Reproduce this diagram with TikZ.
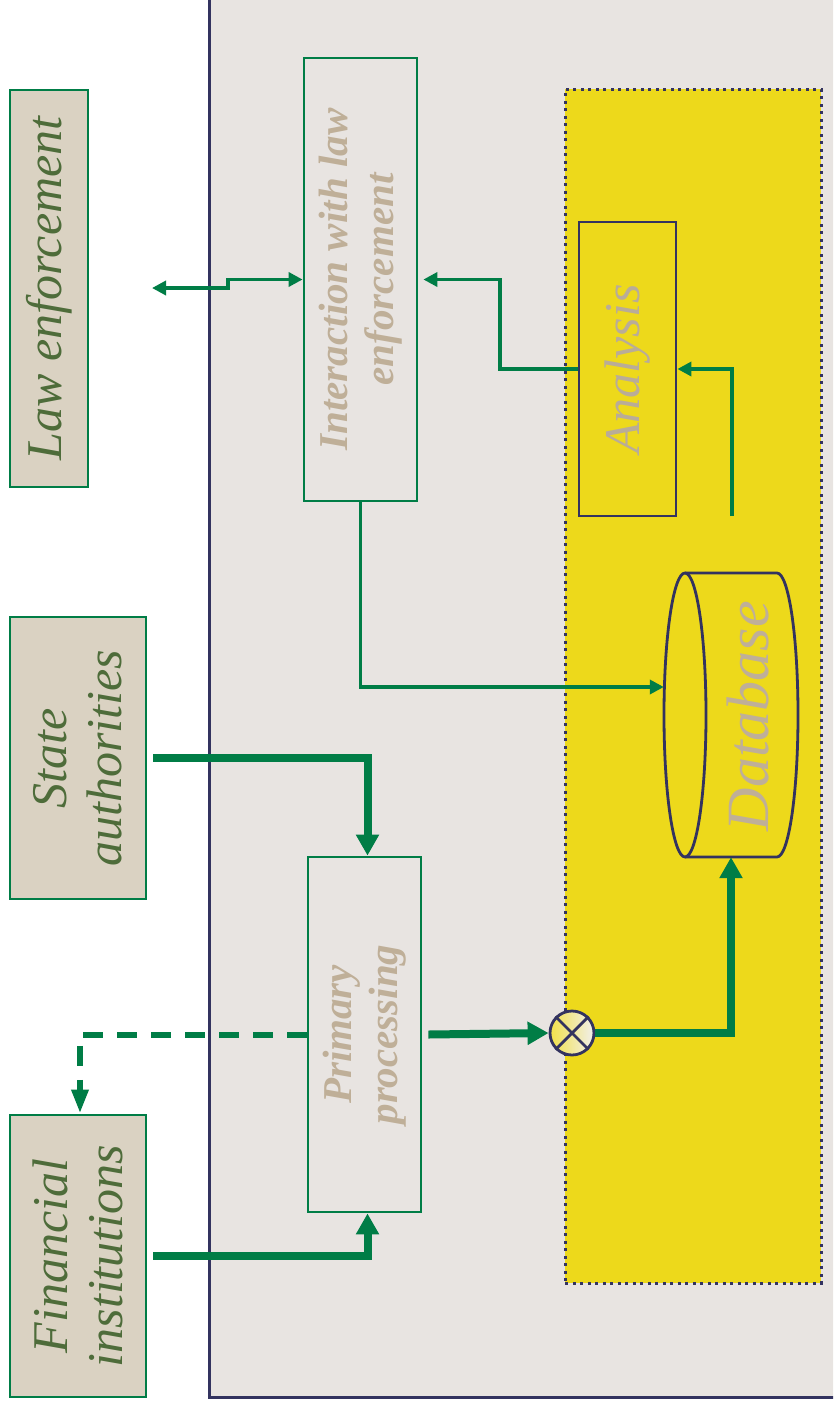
\documentclass[tikz,border=0pt]{standalone}
\usepackage{fontspec}
\setmainfont{Liberation Serif}
\usetikzlibrary{arrows.meta,calc}
\definecolor{grn}{RGB}{0,125,70}
\definecolor{beige}{RGB}{218,210,194}
\definecolor{olive}{RGB}{78,108,58}
\definecolor{panel}{RGB}{232,228,225}
\definecolor{navy}{RGB}{51,51,95}
\definecolor{yel}{RGB}{237,217,27}
\definecolor{tan}{RGB}{191,175,152}
\definecolor{tangray}{RGB}{185,172,152}
\tikzset{
  outbox/.style={draw=grn, line width=2.8pt, fill=beige, inner sep=0pt},
  inbox/.style={draw=grn, line width=2.8pt, inner sep=0pt},
  navybox/.style={draw=navy, line width=2.8pt, inner sep=0pt},
  outtext/.style={rotate=90, align=center, text=olive, font=\fontsize{50}{55}\selectfont\itshape},
  intext/.style={rotate=90, align=center, text=tan, font=\fontsize{41}{46}\selectfont\bfseries\itshape},
  thinarrow/.style={draw=grn, line width=3.5pt, -{Triangle[length=14pt,width=14pt]}},
  thickarrow/.style={draw=grn, line width=8pt, -{Triangle[length=21pt,width=22pt]}},
}
\begin{document}
\begin{tikzpicture}[x=1pt,y=-1pt]
\useasboundingbox (0,0) rectangle (833,1406);
\clip (0,0) rectangle (833,1406);
\fill[white] (0,0) rectangle (833,1406);
% panel
\fill[panel] (209,-10) rectangle (850,1397);
\draw[navy, line width=3pt] (209,-10) -- (209,1397) -- (850,1397);
% yellow region
\node[fill=yel, draw=navy, line width=3pt, dash pattern=on 3pt off 4.5pt, minimum width=256, minimum height=1194, inner sep=0pt] (yellow) at (693,686) {};
% outer boxes
\node[outbox, minimum width=78, minimum height=397] (law) at (49,288.5) {};
\node[outtext] (lawt) at (law.center) {Law enforcement};
\node[outbox, minimum width=136, minimum height=282] (state) at (78,758) {};
\node[outtext] (statet) at (state.center) {State\\authorities};
\node[outbox, minimum width=136, minimum height=282] (fin) at (78,1256) {};
\node[outtext] (fint) at (fin.center) {Financial\\institutions};
% inner boxes
\node[inbox, minimum width=113, minimum height=443] (inter) at (360.5,279.5) {};
\node[intext] (intert) at (inter.center) {Interaction with law\\enforcement};
\node[inbox, minimum width=113, minimum height=355] (prim) at (364.5,1034.5) {};
\node[intext] (primt) at (prim.center) {Primary\\processing};
\node[navybox, minimum width=97, minimum height=294] (ana) at (627.5,369) {};
\node[rotate=90, text=tangray, font=\fontsize{50}{55}\selectfont\itshape] (anat) at (ana.center) {Analysis};
% database cylinder
\node[minimum width=134, minimum height=284, inner sep=0pt] (db) at (731,715) {};
\draw[navy, line width=2.8pt] (685,715) ellipse [x radius=21, y radius=142];
\draw[navy, line width=2.8pt] (685,573) -- (777,573) arc [start angle=-90, end angle=90, x radius=21, y radius=142] -- (685,857);
\node[rotate=90, text=tan, font=\fontsize{60}{66}\selectfont\itshape] (dbt) at (748,716) {Database};
% mixer
\node[circle, draw=navy, line width=2.8pt, minimum size=44pt, inner sep=0pt, left color=yel!80!white, right color=panel!60!white] (mix) at (572,1033) {};
\draw[navy, line width=2.8pt] (mix.north west) -- (mix.south east);
\draw[navy, line width=2.8pt] (mix.north east) -- (mix.south west);
% connectors
\coordinate (lawfree) at (152,288);
\draw[thinarrow, {Triangle[length=14pt,width=14pt]}-{Triangle[length=14pt,width=14pt]}] (lawfree) -- (228,288) -- (228,279.5) -- (inter.west);
\draw[thinarrow, shorten >=5pt] (ana.west) -- (500,369) |- (inter.east);
\coordinate (dbup) at (732,516);
\draw[thinarrow] (dbup) |- (ana.east);
\draw[thinarrow] (inter.south) |- ($(db.west)+(0,-28)$);
\draw[thickarrow, shorten <=6pt] (state.east) -| ($(prim.north)+(3,0)$);
\draw[thickarrow, shorten <=6pt] (fin.east) -| ($(prim.south)+(3,0)$);
\draw[draw=grn, line width=6pt, dash pattern=on 20pt off 14pt, -{Triangle[length=24pt,width=16pt]}] (prim.west) -| ($(fin.north)+(2,0)$);
\draw[thickarrow] ($(prim.east)+(6,0)$) -- (mix.west);
\draw[thickarrow] (mix.east) -| (db.south);
\end{tikzpicture}
\end{document}
